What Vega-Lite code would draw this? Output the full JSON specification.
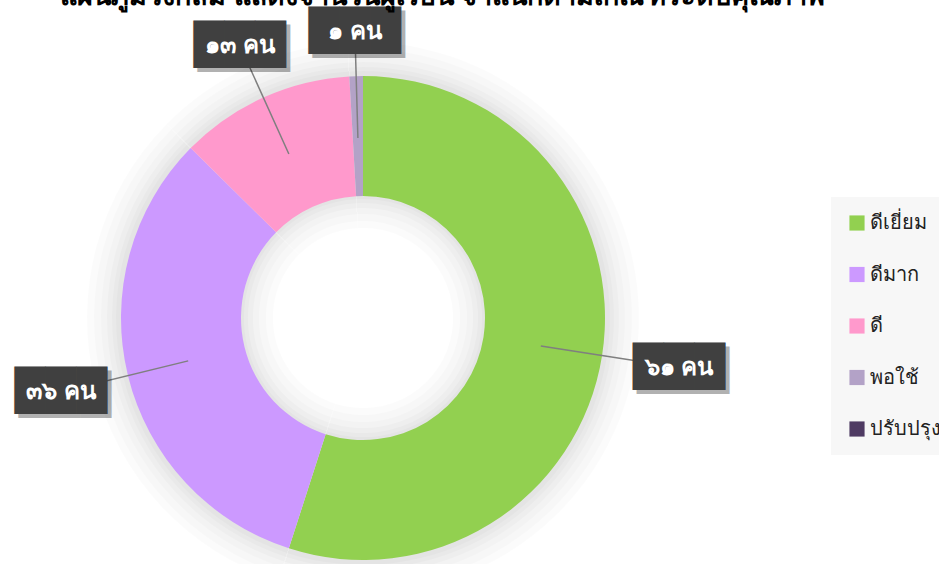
{
  "$schema": "https://vega.github.io/schema/vega-lite/v6.json",
  "width": 726,
  "height": 636,
  "autosize": {"type": "none"},
  "padding": {"left": 0, "top": 0, "right": 213, "bottom": 0},
  "background": "white",
  "title": {
    "text": "แผนภูมิวงกลม แสดงจำนวนผู้เรียน จำแนกตามเกณฑ์ระดับคุณภาพ",
    "anchor": "start",
    "dx": 60,
    "dy": 15,
    "fontSize": 27,
    "fontWeight": "bold",
    "color": "black"
  },
  "data": {
    "values": [
      {"level": "ดีเยี่ยม", "value": 61, "label": "๖๑ คน", "order": 1},
      {"level": "ดีมาก", "value": 36, "label": "๓๖ คน", "order": 2},
      {"level": "ดี", "value": 13, "label": "๑๓ คน", "order": 3},
      {"level": "พอใช้", "value": 1, "label": "๑ คน", "order": 4},
      {"level": "ปรับปรุง", "value": 0, "label": "", "order": 5}
    ]
  },
  "transform": [
    {"window": [{"op": "sum", "field": "value", "as": "cum"}], "sort": [{"field": "order"}], "frame": [null, 0]},
    {"calculate": "datum.cum - datum.value / 2", "as": "mid"}
  ],
  "layer": [
    {
      "mark": {"type": "arc", "innerRadius": 90, "outerRadius": 276, "color": "#000000", "opacity": 0.014},
      "encoding": {"theta": {"field": "value", "type": "quantitative", "stack": true}, "order": {"field": "order"}}
    },
    {
      "mark": {"type": "arc", "innerRadius": 97, "outerRadius": 269, "color": "#000000", "opacity": 0.014},
      "encoding": {"theta": {"field": "value", "type": "quantitative", "stack": true}, "order": {"field": "order"}}
    },
    {
      "mark": {"type": "arc", "innerRadius": 104, "outerRadius": 262, "color": "#000000", "opacity": 0.016},
      "encoding": {"theta": {"field": "value", "type": "quantitative", "stack": true}, "order": {"field": "order"}}
    },
    {
      "mark": {"type": "arc", "innerRadius": 110, "outerRadius": 256, "color": "#000000", "opacity": 0.018},
      "encoding": {"theta": {"field": "value", "type": "quantitative", "stack": true}, "order": {"field": "order"}}
    },
    {
      "mark": {"type": "arc", "innerRadius": 115, "outerRadius": 251, "color": "#000000", "opacity": 0.02},
      "encoding": {"theta": {"field": "value", "type": "quantitative", "stack": true}, "order": {"field": "order"}}
    },
    {
      "mark": {"type": "arc", "innerRadius": 119, "outerRadius": 247, "color": "#000000", "opacity": 0.02},
      "encoding": {"theta": {"field": "value", "type": "quantitative", "stack": true}, "order": {"field": "order"}}
    },
    {
      "mark": {"type": "arc", "innerRadius": 122, "outerRadius": 242},
      "encoding": {
        "theta": {"field": "value", "type": "quantitative", "stack": true},
        "order": {"field": "order"},
        "color": {
          "field": "level",
          "type": "nominal",
          "scale": {
            "domain": ["ดีเยี่ยม", "ดีมาก", "ดี", "พอใช้", "ปรับปรุง"],
            "range": ["#92d050", "#cc99ff", "#ff99cc", "#b3a2c7", "#4f3b63"]
          },
          "legend": {
            "orient": "none",
            "legendX": 831,
            "legendY": 197,
            "title": null,
            "fillColor": "#f7f7f7",
            "padding": 16,
            "symbolType": "square",
            "symbolSize": 230,
            "symbolStrokeWidth": 0,
            "labelFontSize": 20,
            "labelColor": "#222222",
            "labelOffset": 3,
            "rowPadding": 31.5,
            "labelLimit": 200
          }
        }
      }
    },
    {
      "transform": [{"filter": "datum.value > 0"}],
      "mark": {"type": "arc", "stroke": "#7f7f7f", "strokeWidth": 1.5, "fill": null},
      "encoding": {
        "theta": {"field": "mid", "type": "quantitative"},
        "theta2": {"field": "mid"},
        "radius": {"field": "value", "type": "quantitative", "scale": {"type": "sqrt", "domain": [1, 61], "range": [286, 320], "zero": false}},
        "radius2": {"value": 180}
      }
    },
    {
      "transform": [{"filter": "datum.value > 0"}],
      "mark": {"type": "text", "text": "███", "font": "DejaVu Sans", "fontSize": 40, "color": "#000000", "opacity": 0.3, "dx": 4, "dy": 4},
      "encoding": {
        "theta": {"field": "mid", "type": "quantitative"},
        "radius": {"field": "value", "type": "quantitative"}
      }
    },
    {
      "transform": [{"filter": "datum.value > 0"}],
      "mark": {"type": "text", "text": "███", "font": "DejaVu Sans", "fontSize": 40, "color": "#404040"},
      "encoding": {
        "theta": {"field": "mid", "type": "quantitative"},
        "radius": {"field": "value", "type": "quantitative"}
      }
    },
    {
      "transform": [{"filter": "datum.value > 0"}],
      "mark": {"type": "text", "fontSize": 24, "fontWeight": "bold", "color": "white"},
      "encoding": {
        "theta": {"field": "mid", "type": "quantitative"},
        "radius": {"field": "value", "type": "quantitative"},
        "text": {"field": "label"}
      }
    }
  ]
}
